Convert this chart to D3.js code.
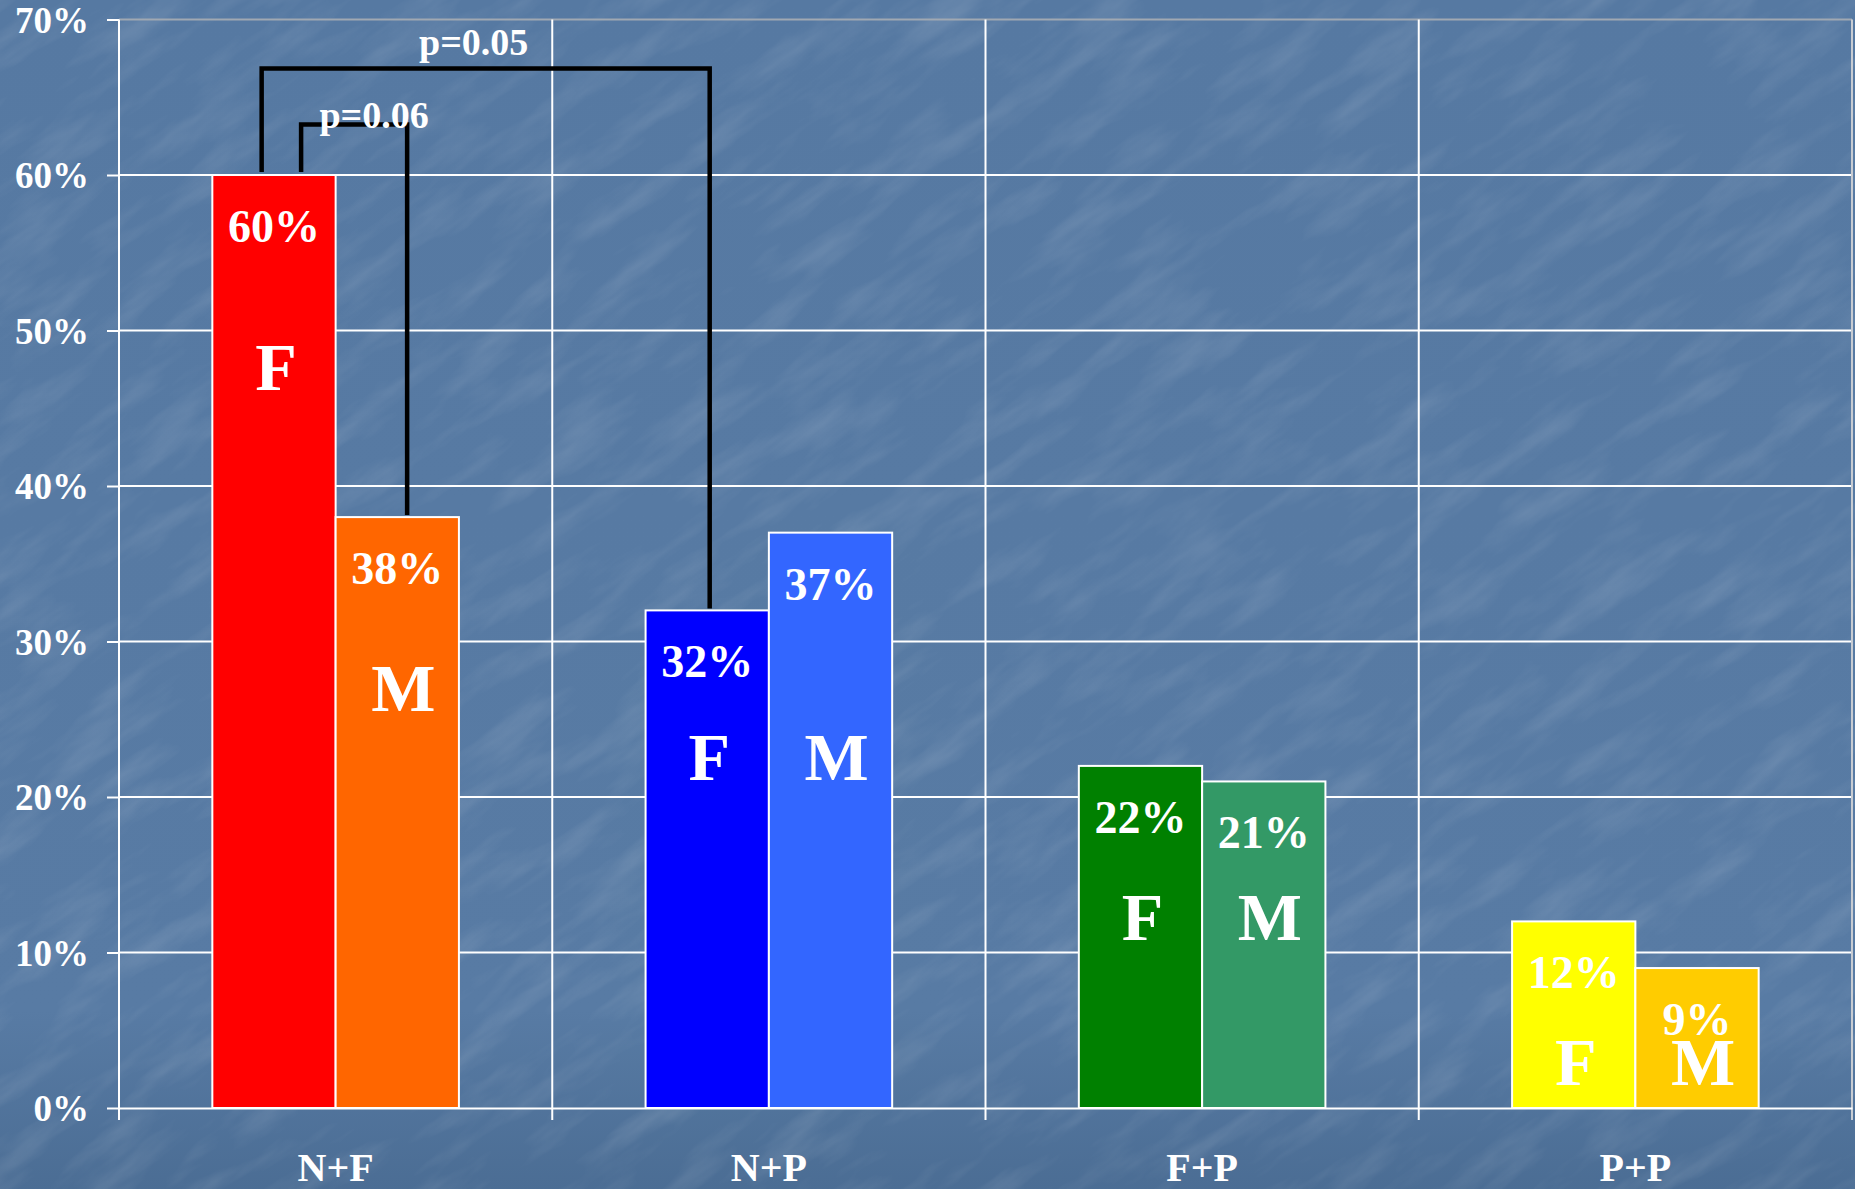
<!DOCTYPE html>
<html>
<head>
<meta charset="utf-8">
<script src="https://cdn.jsdelivr.net/npm/d3@7"></script>
<style>
html,body{margin:0;padding:0;background:#557aa3;}
svg{display:block;}
text{font-family:"Liberation Serif","Times New Roman",serif;font-weight:bold;fill:#fff;}
</style>
</head>
<body>
<svg id="chart" width="1855" height="1189"></svg>
<script>
// ---- data ----
const categories = ["N+F", "N+P", "F+P", "P+P"];
const series = ["F", "M"];
const femaleValues = [0.60, 0.32, 0.22, 0.12];
const maleValues   = [0.38, 0.37, 0.21, 0.09];
const femaleColors = ["#ff0000", "#0000ff", "#008000", "#ffff00"];
const maleColors   = ["#ff6600", "#3366ff", "#339966", "#ffcc00"];
const yTicks = [0, 0.1, 0.2, 0.3, 0.4, 0.5, 0.6, 0.7];
// level (in value units) where the F / M letters sit in each group
const letterLevels = [[0.462, 0.255], [0.211, 0.211], [0.108, 0.108], [0.015, 0.015]];
// significance brackets
const brackets = [
  {from: ["N+F", "F"], fromFrac: 0.40, to: ["N+P", "F"], toFrac: 0.52, level: 0.6685, label: "p=0.05", ldx: -12, ldy: -13},
  {from: ["N+F", "F"], fromFrac: 0.72, to: ["N+F", "M"], toFrac: 0.58, level: 0.6325, label: "p=0.06", ldx: 20, ldy: 4}
];

const W = 1855, H = 1189;
const svg = d3.select("#chart");
const defs = svg.append("defs");

// background with texture
const grad = defs.append("linearGradient").attr("id", "bg").attr("x1", 0).attr("y1", 0).attr("x2", 0).attr("y2", 1);
grad.append("stop").attr("offset", "0").attr("stop-color", "#5679a2");
grad.append("stop").attr("offset", "0.85").attr("stop-color", "#587ba4");
grad.append("stop").attr("offset", "1").attr("stop-color", "#4b6d94");
svg.append("rect").attr("width", W).attr("height", H).attr("fill", "url(#bg)");

const f = defs.append("filter").attr("id", "tex").attr("x", 0).attr("y", 0).attr("width", 1).attr("height", 1);
f.append("feTurbulence").attr("type", "fractalNoise").attr("baseFrequency", "0.009 0.035").attr("numOctaves", 4).attr("seed", 11);
f.append("feColorMatrix").attr("type", "matrix")
  .attr("values", "0 0 0 0 1  0 0 0 0 1  0 0 0 0 1  1.5 0 0 0 -0.68");
svg.append("g").attr("transform", `rotate(-35 ${W/2} ${H/2})`)
  .append("rect").attr("x", -700).attr("y", -900).attr("width", W + 1400).attr("height", H + 1800)
  .attr("filter", "url(#tex)").attr("opacity", 0.16);

// scales
const x = d3.scaleBand().domain(categories).range([119, 1852]).paddingInner(0).paddingOuter(0);
const xs = d3.scaleBand().domain(series).range([0, x.bandwidth()]).paddingInner(0).paddingOuter(0.757);
const y = d3.scaleLinear().domain([0, 0.7]).range([1108, 19.5]);

// gridlines
const grid = svg.append("g");
grid.selectAll("line.h").data(yTicks.filter(d => d > 0)).join("line")
  .attr("x1", 119).attr("x2", 1852).attr("y1", d => y(d)).attr("y2", d => y(d))
  .attr("stroke", d => d >= 0.7 ? "#a0a8b2" : "#ffffff").attr("stroke-width", 2);
const bounds = categories.map(c => x(c)).concat([x(categories[categories.length-1]) + x.bandwidth()]);
grid.selectAll("line.v").data(bounds.slice(1)).join("line")
  .attr("x1", d => d).attr("x2", d => d).attr("y1", y(0.7)).attr("y2", y(0) + 12)
  .attr("stroke", (d, i) => i === bounds.length - 2 ? "#c8ccd2" : "#ffffff").attr("stroke-width", 2);

// y axis
const yAxis = svg.append("g").attr("transform", `translate(${x.range()[0]},0)`)
  .call(d3.axisLeft(y).tickValues(yTicks).tickFormat(d3.format(".0%")).tickSize(12).tickPadding(18));
yAxis.select(".domain").attr("stroke", "#fff").attr("stroke-width", 2)
  .attr("d", `M0,${y(0.7)}V${y(0) + 12}`);
yAxis.selectAll(".tick line").attr("stroke", "#fff").attr("stroke-width", 2);
yAxis.selectAll(".tick text").attr("fill", "#fff").style("font-size", "37px")
  .style("font-family", "'Liberation Serif','Times New Roman',serif").style("font-weight", "bold")
  .attr("dy", "0.34em");

// x axis
const xAxis = svg.append("g").attr("transform", `translate(0,${y(0)})`)
  .call(d3.axisBottom(x).tickSize(0).tickPadding(0));
xAxis.select(".domain").attr("stroke", "#fff").attr("stroke-width", 2);
xAxis.selectAll(".tick text").attr("fill", "#fff").style("font-size", "40px")
  .style("font-family", "'Liberation Serif','Times New Roman',serif").style("font-weight", "bold")
  .attr("y", 73).attr("dy", 0);

// bars
const rows = [];
categories.forEach((c, i) => {
  rows.push({cat: c, s: "F", v: femaleValues[i], color: femaleColors[i], lv: letterLevels[i][0]});
  rows.push({cat: c, s: "M", v: maleValues[i], color: maleColors[i], lv: letterLevels[i][1]});
});
const bars = svg.append("g");
bars.selectAll("rect").data(rows).join("rect")
  .attr("x", d => x(d.cat) + xs(d.s))
  .attr("y", d => y(d.v))
  .attr("width", xs.bandwidth())
  .attr("height", d => y(0) - y(d.v))
  .attr("fill", d => d.color)
  .attr("stroke", "#fff").attr("stroke-width", 2);

// value labels
bars.selectAll("text.val").data(rows).join("text").attr("class", "val")
  .attr("x", d => x(d.cat) + xs(d.s) + xs.bandwidth() / 2)
  .attr("y", d => y(d.v) + 67)
  .attr("text-anchor", "middle").style("font-size", "46px")
  .text(d => d3.format(".0%")(d.v));

// F / M letters
bars.selectAll("text.sex").data(rows).join("text").attr("class", "sex")
  .attr("x", d => x(d.cat) + xs(d.s) + xs.bandwidth() / 2 + (d.s === "M" ? 6 : 2))
  .attr("y", d => y(d.lv))
  .attr("text-anchor", "middle").style("font-size", "68px")
  .text(d => d.s);

// significance brackets
const br = svg.append("g");
brackets.forEach(b => {
  const x1 = x(b.from[0]) + xs(b.from[1]) + xs.bandwidth() * b.fromFrac;
  const x2 = x(b.to[0]) + xs(b.to[1]) + xs.bandwidth() * b.toFrac;
  const vFrom = b.from[1] === "F" ? femaleValues[categories.indexOf(b.from[0])] : maleValues[categories.indexOf(b.from[0])];
  const vTo = b.to[1] === "F" ? femaleValues[categories.indexOf(b.to[0])] : maleValues[categories.indexOf(b.to[0])];
  const yl = y(b.level);
  br.append("path")
    .attr("d", `M${x1},${y(vFrom) - 3}V${yl}H${x2}V${y(vTo) - 2}`)
    .attr("fill", "none").attr("stroke", "#000").attr("stroke-width", 4.5)
    .attr("stroke-linejoin", "miter");
  b._x = (x1 + x2) / 2 + b.ldx; b._y = yl + b.ldy;
});
br.selectAll("text").data(brackets).join("text")
  .attr("x", d => d._x).attr("y", d => d._y)
  .attr("text-anchor", "middle").style("font-size", "38px")
  .text(d => d.label);
</script>
</body>
</html>
